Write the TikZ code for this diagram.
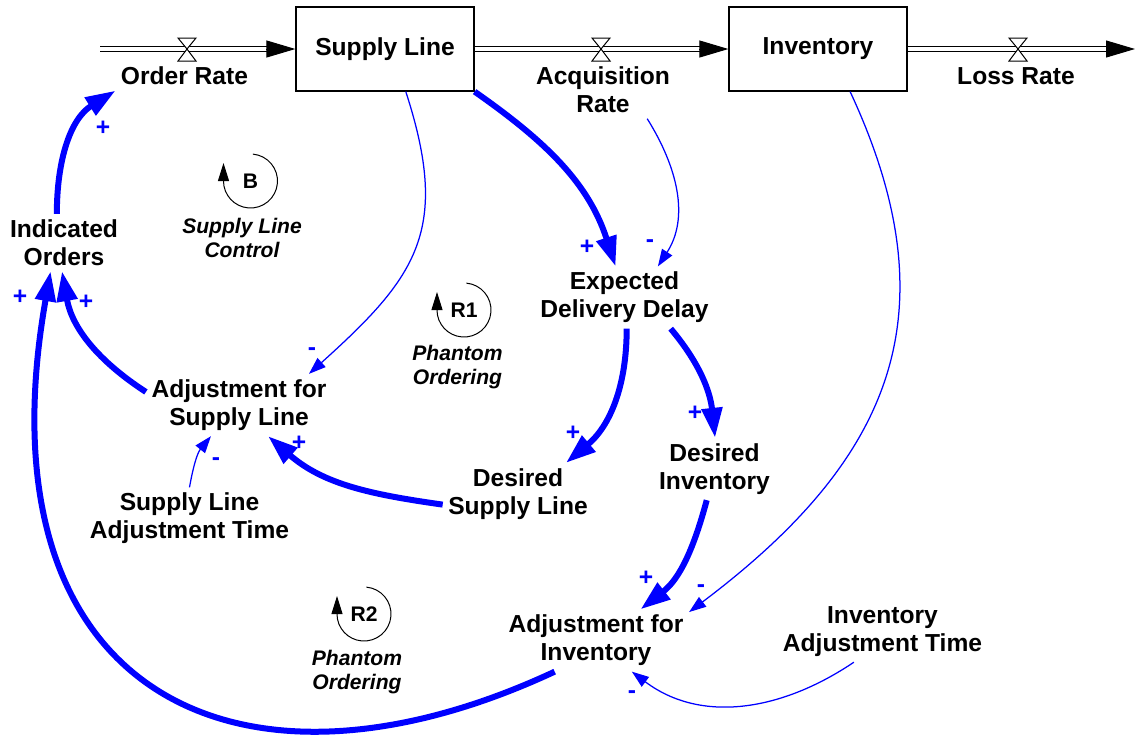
\documentclass[tikz,border=0pt]{standalone}
\usepackage{fontspec}
\setmainfont{Liberation Sans}
\usetikzlibrary{arrows.meta}

\begin{document}
\begin{tikzpicture}[x=0.2mm, y=0.2mm,
  stock/.style={draw, line width=0.25mm, minimum width=3.56cm, minimum height=1.68cm, font=\fontsize{14}{16}\selectfont\bfseries},
  var/.style={align=center, inner sep=3pt, font=\fontsize{14}{16}\selectfont\bfseries},
  pol/.style={text=blue, inner sep=0pt, font=\fontsize{14}{16}\selectfont\bfseries},
  looplbl/.style={align=center, inner sep=0pt, font=\fontsize{12}{14}\selectfont\bfseries\itshape},
  looplet/.style={inner sep=0pt, font=\fontsize{12}{14}\selectfont\bfseries},
  loopc/.style={line width=0.2mm, -{Triangle[length=3.6mm,width=2.2mm]}},
  strong/.style={blue, line width=1.2mm, -{Triangle[length=6mm,width=4mm]}},
  weak/.style={blue, line width=0.25mm, -{Triangle[length=3.4mm,width=2.4mm]}},
  pipe/.style={double, double distance=0.8mm, line width=0.2mm, shorten >=5.6mm},
  head/.style={line width=0.2mm, -{Triangle[length=5.8mm,width=3.4mm]}},
  valve/.style={fill=white, line width=0.2mm}]
			\useasboundingbox (0,0) rectangle (1139,-738);
			% stocks and flows
			\node[stock] (SL) at (385,-49) {Supply Line};
			\node[stock] (INV) at (818,-49) {Inventory};
			\coordinate (src) at (100,-49);
			\coordinate (snk) at (1135,-49);
			\draw[pipe] (src) -- (SL.west);
			\draw[pipe] (SL.east) -- (INV.west);
			\draw[pipe] (INV.east) -- (snk);
			\draw[head] ([xshift=-5.8mm]SL.west) -- (SL.west);
			\draw[head] ([xshift=-5.8mm]INV.west) -- (INV.west);
			\draw[head] ([xshift=-5.8mm]snk) -- (snk);
			\foreach \x in {187,601,1018}
			\draw[valve] (\x-9,-38) -- (\x+9,-38) -- (\x,-49) -- cycle
			(\x-9,-61) -- (\x+9,-61) -- (\x,-49) -- cycle;
			\node[var] (OR) at (184.5,-76) {Order Rate};
			\node[var] (AR) at (603,-90) {Acquisition\\Rate};
			\node[var] (LR) at (1016,-76) {Loss Rate};
			% auxiliaries
			\node[var] (IO) at (64,-242.5) {Indicated\\Orders};
			\node[var] (ASL) at (239,-405) {Adjustment for\\Supply Line};
			\node[var] (SLAT) at (189.5,-518.5) {Supply Line\\Adjustment Time};
			\node[var] (EDD) at (624.5,-297.5) {Expected\\Delivery Delay};
			\node[var] (DSL) at (518,-494) {Desired\\Supply Line};
			\node[var] (DI) at (714.5,-469) {Desired\\Inventory};
			\node[var] (AI) at (596,-640.5) {Adjustment for\\Inventory};
			\node[var] (IAT) at (882.5,-631.5) {Inventory\\Adjustment Time};
			% loops
			\node[looplet] (B) at (250.5,-181) {B};
			\node[looplet] (R1) at (464,-310) {R1};
			\node[looplet] (R2) at (364,-614) {R2};
			\draw[loopc] (B.center) ++(85:27) arc[start angle=85, end angle=-180, radius=27] -- ++(0,18);
			\draw[loopc] (R1.center) ++(85:27) arc[start angle=85, end angle=-180, radius=27] -- ++(0,18);
			\draw[loopc] (R2.center) ++(85:27) arc[start angle=85, end angle=-180, radius=27] -- ++(0,18);
			\node[looplbl] (Bl) at (242,-238) {Supply Line\\Control};
			\node[looplbl] (R1l) at (457.5,-367) {Phantom\\Ordering};
			\node[looplbl] (R2l) at (357,-672) {Phantom\\Ordering};
			% links
			\draw[strong] (IO.104) to[out=90, in=212] (OR.-168);
			\draw[strong] (SL.south east) to[out=-35, in=108] (EDD.106);
			\draw[weak] (AR.-33) to[out=-58, in=57] (EDD.43);
			\draw[weak] (SL.-64) to[out=-72, in=42, looseness=1.25] (ASL.24);
			\draw[strong] (EDD.-86) to[out=-90, in=40] (DSL.33);
			\draw[strong] (EDD.-34) to[out=-50, in=96] (DI.89);
			\draw[strong] (DSL.-172) to[out=172, in=-41] (ASL.-47);
			\draw[weak] (SLAT.90) to[out=80, in=-129] (ASL.-132);
			\draw[strong] (ASL.172) to[out=147, in=-80] (IO.-94);
			\draw[strong] (AI.-143) to[out=-155, in=-100, out looseness=1.4, in looseness=1.7] (IO.-115);
			\draw[strong] (DI.-104) to[out=-105, in=38] (AI.35);
			\draw[weak] (INV.-53) to[out=-65, in=37, looseness=1.17] (AI.17);
			\draw[weak] (IAT.-133) to[out=-146, in=-37] (AI.-41);
			% polarities
			\node[pol] (p1) at (103,-128) {+};
			\node[pol] (p2) at (587,-247) {+};
			\node[pol] (p3) at (650,-244) {-};
			\node[pol] (p4) at (312,-352) {-};
			\node[pol] (p5) at (573,-433) {+};
			\node[pol] (p6) at (695,-413) {+};
			\node[pol] (p7) at (299,-443) {+};
			\node[pol] (p8) at (216,-462) {-};
			\node[pol] (p9) at (86,-302) {+};
			\node[pol] (p10) at (20,-297) {+};
			\node[pol] (p11) at (646,-578) {+};
			\node[pol] (p12) at (701,-589) {-};
			\node[pol] (p13) at (632,-695) {-};
\end{tikzpicture}
\end{document}
